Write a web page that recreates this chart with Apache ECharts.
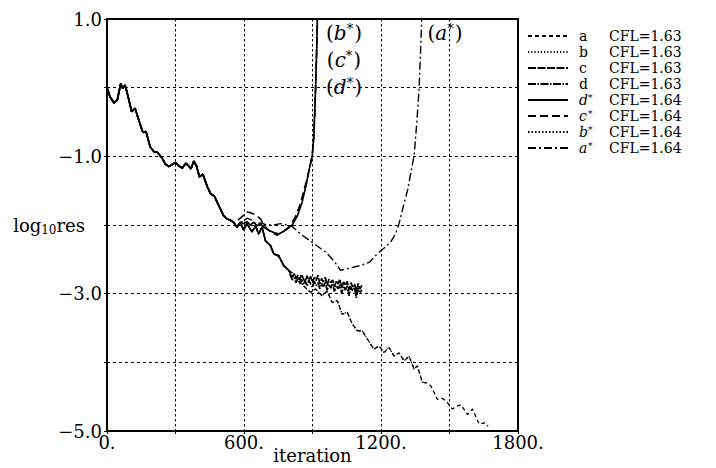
<!DOCTYPE html>
<html>
<head>
<meta charset="utf-8">
<script src="https://cdn.jsdelivr.net/npm/echarts@6/dist/echarts.min.js"></script>
<style>
  html, body { margin: 0; padding: 0; background: #fff; }
  #chart { width: 716px; height: 468px; }
</style>
</head>
<body>
<div id="chart"></div>
<script>
// runs and their CFL numbers (legend order)
const runNames = ['a', 'b', 'c', 'd', 'd*', 'c*', 'b*', 'a*']
const runCfl = ['1.63', '1.63', '1.63', '1.63', '1.64', '1.64', '1.64', '1.64']

// part shared by every run
const baseIter = [0, 13, 30, 45, 60, 69, 79, 88, 108, 123, 140, 157, 171, 189, 205, 220, 240, 255, 270, 285, 300, 315, 330, 345, 357, 368, 380, 392, 405, 420, 440, 455, 470, 490, 510, 525, 540, 554, 569, 584]
const baseRes = [0.0, -0.13, -0.22, -0.18, 0.06, -0.01, 0.04, -0.07, -0.35, -0.30, -0.48, -0.65, -0.64, -0.86, -0.93, -0.94, -1.02, -1.11, -1.15, -1.12, -1.09, -1.14, -1.17, -1.10, -1.14, -1.18, -1.07, -1.14, -1.30, -1.26, -1.45, -1.55, -1.58, -1.72, -1.86, -1.91, -1.93, -1.96, -2.03, -1.96]

// converging runs (a goes on, b stops at 1400)
const convIter = [598, 613, 635, 650, 664, 679, 694, 716, 730, 752, 774, 796, 820, 840, 865, 891, 913, 942, 964, 986, 1008, 1030, 1052, 1074, 1096, 1118, 1140, 1169, 1191, 1213, 1235, 1257, 1279, 1301, 1323, 1345, 1359, 1381, 1400, 1418, 1447, 1465, 1484, 1513, 1530, 1550, 1579, 1601, 1630, 1652, 1669]
const convRes = [-2.07, -1.98, -2.10, -2.01, -2.13, -2.03, -2.23, -2.30, -2.42, -2.45, -2.59, -2.66, -2.72, -2.81, -2.90, -2.98, -2.93, -3.03, -2.96, -3.13, -3.10, -3.30, -3.27, -3.44, -3.54, -3.54, -3.66, -3.81, -3.76, -3.86, -3.78, -3.91, -3.86, -3.98, -3.91, -4.10, -4.05, -4.29, -4.30, -4.34, -4.54, -4.52, -4.56, -4.68, -4.64, -4.62, -4.76, -4.68, -4.90, -4.88, -4.93]

// stalled runs c and d
const noiseIter = [804, 812, 820, 828, 836, 844, 852, 860, 868, 876, 884, 892, 900, 908, 916, 924, 932, 940, 948, 956, 964, 972, 980, 988, 996, 1004, 1012, 1020, 1028, 1036, 1044, 1052, 1060, 1068, 1076, 1084, 1092, 1100, 1108, 1116]
const cRes = [-2.70, -2.76, -2.71, -2.79, -2.73, -2.80, -2.72, -2.78, -2.83, -2.74, -2.80, -2.75, -2.84, -2.76, -2.81, -2.73, -2.86, -2.78, -2.83, -2.76, -2.88, -2.79, -2.84, -2.80, -2.90, -2.81, -2.86, -2.79, -2.92, -2.83, -2.88, -2.82, -2.95, -2.84, -2.90, -2.86, -2.97, -2.85, -2.93, -2.88]
const dRes = [-2.74, -2.80, -2.77, -2.84, -2.78, -2.86, -2.79, -2.87, -2.81, -2.89, -2.80, -2.86, -2.91, -2.82, -2.88, -2.84, -2.93, -2.85, -2.90, -2.83, -2.95, -2.86, -2.92, -2.85, -2.97, -2.88, -2.93, -2.87, -3.00, -2.89, -2.95, -2.88, -3.03, -2.90, -2.96, -2.91, -3.06, -2.92, -2.99, -2.94]

// diverging runs
const bdStarIter = [598, 613, 628, 642, 657, 672, 690, 710, 730, 752, 780, 811, 835, 855, 872, 885, 899, 906, 913, 918, 922]
const bdStarRes = [-1.98, -1.95, -2.00, -1.96, -2.01, -1.99, -2.04, -2.08, -2.11, -2.13, -2.08, -2.00, -1.86, -1.66, -1.42, -1.20, -0.99, -0.70, -0.05, 0.50, 1.05]
const cStarIter = [562, 584, 598, 613, 628, 642, 657, 672, 694, 716, 745, 767, 785, 803, 825, 847, 862, 877, 890, 899, 906, 912, 917, 921]
const cStarRes = [-1.96, -1.90, -1.86, -1.81, -1.82, -1.84, -1.87, -1.91, -2.03, -2.10, -2.15, -2.10, -2.06, -2.01, -1.88, -1.69, -1.50, -1.32, -1.13, -0.98, -0.70, -0.20, 0.40, 1.05]
const aStarIter = [598, 613, 635, 650, 672, 700, 730, 760, 790, 811, 847, 906, 960, 993, 1023, 1060, 1111, 1150, 1184, 1215, 1242, 1265, 1279, 1300, 1316, 1330, 1345, 1357, 1367, 1373, 1379]
const aStarRes = [-1.95, -1.90, -1.93, -1.98, -1.97, -2.00, -2.00, -1.98, -2.00, -2.02, -2.13, -2.27, -2.40, -2.52, -2.66, -2.63, -2.59, -2.54, -2.42, -2.33, -2.25, -2.12, -1.98, -1.70, -1.50, -1.25, -0.99, -0.50, 0.00, 0.50, 1.05]

const FONT = 'DejaVu Serif'

const zip = (xs, ys) => xs.map((x, i) => [x, ys[i]])
const base = zip(baseIter, baseRes)
const conv = zip(convIter, convRes)

const runData = {
  'a': base.concat(conv),
  'b': base.concat(conv.filter(p => p[0] <= 1400)),
  'c': base.concat(conv.filter(p => p[0] <= 796), zip(noiseIter, cRes)),
  'd': base.concat(conv.filter(p => p[0] <= 796), zip(noiseIter, dRes)),
  'd*': base.concat(zip(bdStarIter, bdStarRes)),
  'c*': base.filter(p => p[0] < 562).concat(zip(cStarIter, cStarRes)),
  'b*': base.concat(zip(bdStarIter, bdStarRes)),
  'a*': base.concat(zip(aStarIter, aStarRes)),
}

const runStyle = {
  'a': { type: [4, 3], width: 1.3 },
  'b': { type: [1.2, 2], width: 1.3 },
  'c': { type: [8, 1.5], width: 1.7 },
  'd': { type: [8, 1.5, 1.5, 1.5], width: 1.7 },
  'd*': { type: 'solid', width: 1.6 },
  'c*': { type: [8, 4], width: 1.6 },
  'b*': { type: [1.5, 2], width: 1.4 },
  'a*': { type: [8, 3, 2, 3], width: 1.4 },
}

const chart = echarts.init(document.getElementById('chart'), null, { renderer: 'svg' })

const tickFont = { fontFamily: FONT, fontSize: 18, color: '#000' }

const option = {
  backgroundColor: '#fff',
  animation: false,
  grid: {
    left: 107,
    right: 198,
    top: 19,
    bottom: 37,
    containLabel: false,
    outerBoundsMode: 'none',
    show: true,
    borderColor: '#000',
    borderWidth: 2,
  },
  legend: {
    orient: 'vertical',
    left: 522,
    top: 23,
    itemWidth: 40,
    itemHeight: 10,
    itemGap: 0,
    selectedMode: false,
    data: runNames,
    itemStyle: { opacity: 0 },
    textStyle: {
      fontFamily: FONT,
      fontSize: 14,
      lineHeight: 16,
      color: '#000',
      rich: {
        n: { fontFamily: FONT, fontSize: 14, lineHeight: 16, width: 30, padding: [0, 0, 0, 6], color: '#000' },
        it: { fontFamily: FONT, fontSize: 14, lineHeight: 16, fontStyle: 'italic', width: 9, padding: [0, 0, 0, 6], color: '#000' },
        sup: { fontFamily: FONT, fontSize: 9, lineHeight: 9, width: 21, padding: [0, 0, 5, 0], color: '#000' },
        t: { fontFamily: FONT, fontSize: 14, lineHeight: 16, color: '#000' },
      },
    },
    formatter: (name) => {
      const cfl = runCfl[runNames.indexOf(name)]
      if (name.endsWith('*')) return '{it|' + name[0] + '}{sup|*}{t|CFL=' + cfl + '}'
      return '{n|' + name + '}{t|CFL=' + cfl + '}'
    },
  },
  xAxis: {
    type: 'value',
    min: 0,
    max: 1800,
    interval: 300,
    name: 'iteration',
    nameLocation: 'middle',
    nameGap: 15,
    nameMoveOverlap: false,
    nameTextStyle: { fontFamily: FONT, fontSize: 18, color: '#000' },
    axisLine: { onZero: false, lineStyle: { color: '#000', width: 2 } },
    axisTick: { show: true, length: 3, lineStyle: { color: '#000' } },
    axisLabel: {
      ...tickFont,
      margin: 2,
      showMinLabel: true,
      showMaxLabel: true,
      formatter: (v) => (v % 600 === 0 ? v + '.' : ''),
    },
    splitLine: { show: true, lineStyle: { color: '#000', width: 1, type: [2.5, 2.5] } },
  },
  yAxis: {
    type: 'value',
    min: -5,
    max: 1,
    interval: 1,
    name: 'log{sub|10}res',
    nameLocation: 'middle',
    nameRotate: 0,
    nameGap: 22,
    nameMoveOverlap: false,
    nameTextStyle: {
      fontFamily: FONT,
      fontSize: 18,
      color: '#000',
      rich: {
        sub: { fontFamily: FONT, fontSize: 12, padding: [10, 0, 0, 0], color: '#000' },
      },
    },
    axisLine: { show: true, onZero: false, lineStyle: { color: '#000', width: 2 } },
    axisTick: { show: true, length: 3, lineStyle: { color: '#000' } },
    axisLabel: {
      ...tickFont,
      margin: 5,
      showMinLabel: true,
      showMaxLabel: true,
      formatter: (v) => {
        if (Math.abs(v) % 2 !== 1) return ''
        return (v < 0 ? '\u2212' : '') + Math.abs(v).toFixed(1)
      },
    },
    splitLine: { show: true, lineStyle: { color: '#000', width: 1, type: [3, 3] } },
  },
  graphic: [
    { label: 'b', x: 344, y: 33 },
    { label: 'c', x: 344, y: 60 },
    { label: 'd', x: 344, y: 87 },
    { label: 'a', x: 445, y: 33 },
  ].map((m) => ({
    type: 'text',
    x: m.x,
    y: m.y,
    z: 10,
    style: {
      text: '{p|(}{i|' + m.label + '}{s|*}{p|)}',
      align: 'center',
      verticalAlign: 'middle',
      fill: '#000',
      font: '20px "DejaVu Serif"',
      rich: {
        p: { fontFamily: FONT, fontSize: 20, fill: '#000' },
        i: { fontFamily: FONT, fontSize: 20, fontStyle: 'italic', fill: '#000' },
        s: { fontFamily: FONT, fontSize: 13, padding: [0, 1, 9, 0], fill: '#000' },
      },
    },
  })),
  series: runNames.map((name) => ({
    name,
    type: 'line',
    data: runData[name],
    symbol: 'none',
    smooth: false,
    clip: true,
    color: '#000',
    lineStyle: { color: '#000', ...runStyle[name] },
    emphasis: { disabled: true },
  })),
}

chart.setOption(option)
</script>
</body>
</html>
